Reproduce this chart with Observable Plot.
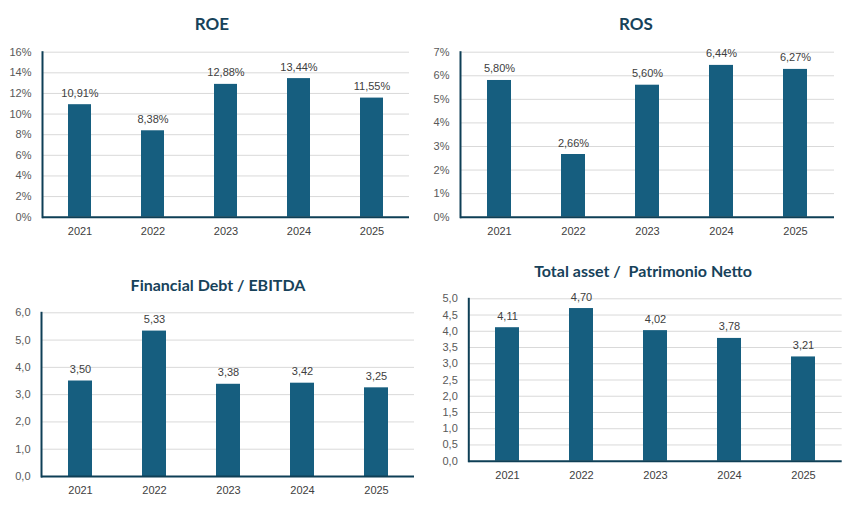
<!DOCTYPE html>
<html><head><meta charset="utf-8">
<script src="https://cdn.jsdelivr.net/npm/d3@7"></script>
<script src="https://cdn.jsdelivr.net/npm/@observablehq/plot@0.6"></script>
<style>
body{margin:0;background:#fff;}
#wrap{position:relative;width:857px;height:520px;overflow:hidden;background:#fff;}
.t{position:absolute;font-family:Lato,"Open Sans",sans-serif;font-weight:700;color:#17425A;white-space:pre;transform:translateX(-50%);line-height:1;}
.p{position:absolute;left:0;top:0;}
</style></head><body><div id="wrap"></div>
<script>
const years = ["2021","2022","2023","2024","2025"];
const roe = [10.91, 8.38, 12.88, 13.44, 11.55];
const ros = [5.80, 2.66, 5.60, 6.44, 6.27];
const debtEbitda = [3.50, 5.33, 3.38, 3.42, 3.25];
const assetPn = [4.11, 4.70, 4.02, 3.78, 3.21];
const titles = ["ROE", "ROS", "Financial Debt / EBITDA", "Total asset /  Patrimonio Netto"];
const roeTicks = [0, 2, 4, 6, 8, 10, 12, 14, 16];
const rosTicks = [0, 1, 2, 3, 4, 5, 6, 7];
const debtTicks = [0, 1, 2, 3, 4, 5, 6];
const assetTicks = [0, 0.5, 1, 1.5, 2, 2.5, 3, 3.5, 4, 4.5, 5];

const comma = (v, d) => v.toFixed(d).replace(".", ",");
const pctTick = v => v + "%";
const pctVal = v => comma(v, 2) + "%";
const numTick = v => comma(v, 1);
const numVal = v => comma(v, 2);

const wrap = document.getElementById("wrap");
const W = 857, H = 520;

function panel({data, ticks, fmtTick, fmtVal, ax, rx, ty, by}) {
  const rows = years.map((y, i) => ({year: y, v: data[i]}));
  const svg = Plot.plot({
    width: W, height: H,
    marginLeft: ax, marginRight: W - rx, marginTop: ty, marginBottom: H - by,
    style: {fontFamily: "'Liberation Sans', Arial, sans-serif", fontSize: "11px", color: "#595959", background: "transparent"},
    x: {domain: years, paddingInner: 0.68, paddingOuter: 0.34},
    y: {domain: [ticks[0], ticks[ticks.length - 1]]},
    marks: [
      Plot.gridY(ticks.slice(1), {stroke: "#d9d9d9", strokeOpacity: 1, strokeWidth: 1}),
      Plot.barY(rows, {x: "year", y: "v", fill: "#165E7F"}),
      Plot.text(rows, {x: "year", y: "v", text: d => fmtVal(d.v), lineAnchor: "bottom", dy: -8, fill: "#404040"}),
      Plot.axisY(ticks, {tickSize: 0, tickPadding: 11, tickFormat: fmtTick, fill: "#595959", label: null}),
      Plot.axisX({tickSize: 0, tickPadding: 10, fill: "#404040", label: null}),
      Plot.ruleY([ticks[0]], {stroke: "#0E3F56", strokeWidth: 2}),
      Plot.frame({anchor: "left", stroke: "#0E3F56", strokeWidth: 2})
    ]
  });
  svg.classList.add("p");
  wrap.appendChild(svg);
}

function title(text, cx, top, size) {
  const d = document.createElement("div");
  d.className = "t";
  d.textContent = text;
  d.style.left = cx + "px";
  d.style.top = top + "px";
  d.style.fontSize = size + "px";
  wrap.appendChild(d);
}

panel({data: roe, ticks: roeTicks, fmtTick: pctTick, fmtVal: pctVal, ax: 42, rx: 409, ty: 51.7, by: 216.7});
panel({data: ros, ticks: rosTicks, fmtTick: pctTick, fmtVal: pctVal, ax: 460, rx: 834, ty: 51.7, by: 216.7});
panel({data: debtEbitda, ticks: debtTicks, fmtTick: numTick, fmtVal: numVal, ax: 41, rx: 414, ty: 312.3, by: 476});
panel({data: assetPn, ticks: assetTicks, fmtTick: numTick, fmtVal: numVal, ax: 468.3, rx: 841.7, ty: 298.3, by: 460.7});

title(titles[0], 212, 15, 17);
title(titles[1], 636, 15, 17);
title(titles[2], 218, 276.5, 16);
title(titles[3], 643, 262.5, 16);
</script>
</body></html>
